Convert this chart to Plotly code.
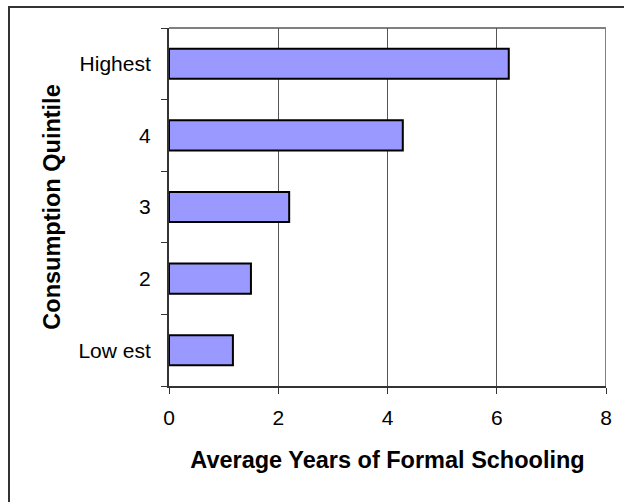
import plotly.graph_objects as go

categories = ["Low est", "2", "3", "4", "Highest"]
values = [1.17, 1.5, 2.2, 4.28, 6.22]
x_ticks = [0, 2, 4, 6, 8]

W, H = 624, 502
ml, mr, mt, mb = 169, 18, 28, 116

fig = go.Figure()
fig.add_trace(go.Bar(
    y=categories, x=values, orientation="h",
    marker=dict(color="#9999ff", line=dict(color="#000000", width=2)),
    width=0.42,
))

font = "Liberation Sans, Arial, sans-serif"
fig.update_layout(
    width=W, height=H,
    margin=dict(l=ml, r=mr, t=mt, b=mb),
    paper_bgcolor="white", plot_bgcolor="white",
    showlegend=False,
    font=dict(family=font, size=16, color="black"),
    xaxis=dict(
        range=[0, 8], tickvals=x_ticks, ticktext=[str(v) for v in x_ticks],
        showgrid=True, gridcolor="#555555", gridwidth=1,
        showline=True, linecolor="#333333", linewidth=2,
        ticks="outside", ticklen=6, tickcolor="#333333", tickwidth=1,
        zeroline=False,
        tickfont=dict(size=21),
        ticklabelstandoff=6,
        title=dict(text="<b>Average Years of Formal Schooling</b>", font=dict(size=23.5), standoff=23),
        fixedrange=True,
    ),
    yaxis=dict(
        type="category", range=[-0.5, 4.5],
        showgrid=False, showline=True, linecolor="#333333", linewidth=2,
        ticks="", zeroline=False,
        tickfont=dict(size=21),
        ticklabelstandoff=12,
        title=dict(text="<b>Consumption Quintile</b>", font=dict(size=23.5), standoff=11),
    ),
)

# minor ticks at category boundaries on y axis
fig.update_yaxes(minor=dict(ticks="outside", ticklen=6, tickcolor="#333333", tickwidth=1,
                            tickvals=[-0.5, 0.5, 1.5, 2.5, 3.5, 4.5], showgrid=False))

# plot-area border (gray) on top/right
fig.add_shape(type="line", xref="x", yref="paper", x0=8, x1=8, y0=0, y1=1,
              line=dict(color="#808080", width=2), layer="below")
fig.add_shape(type="line", xref="paper", yref="paper", x0=0, x1=1, y0=1, y1=1,
              line=dict(color="#808080", width=2), layer="below")
# chart outer border (cropped at right/bottom)
fig.add_shape(type="rect", xref="paper", yref="paper",
              x0=(9 - ml) / (W - ml - mr), x1=(630 - ml) / (W - ml - mr),
              y0=-(H + 10 - (H - mb)) / (H - mt - mb), y1=1 + (mt - 7) / (H - mt - mb),
              line=dict(color="#333333", width=2))

fig.write_html("out.html")
